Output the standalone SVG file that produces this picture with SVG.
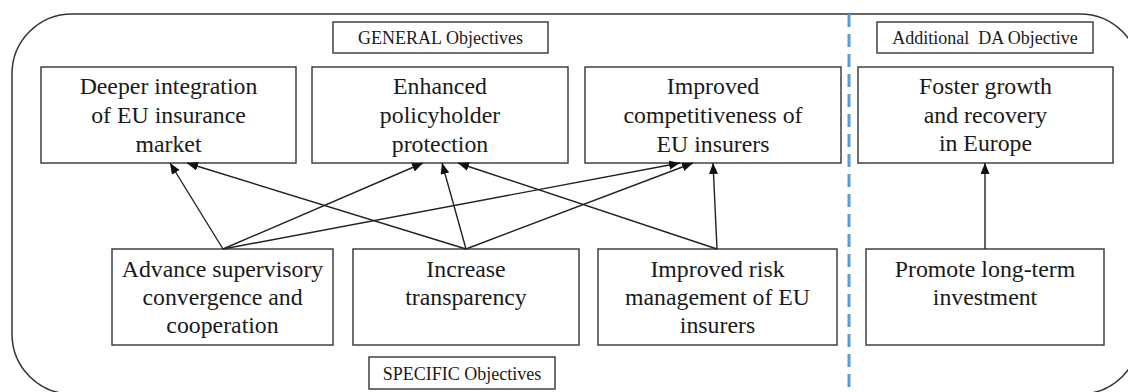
<svg xmlns="http://www.w3.org/2000/svg" width="1128" height="392" viewBox="0 0 1128 392">
<style>
.box{fill:#fff;stroke:#404040;stroke-width:1.5}
.t{font-family:'Liberation Serif',Tinos,'Times New Roman','DejaVu Serif',serif;font-size:23.8px;fill:#1a1a1a;text-anchor:middle}
.s{font-family:'Liberation Serif',Tinos,'Times New Roman','DejaVu Serif',serif;font-size:18px;fill:#1a1a1a;text-anchor:middle}
.c{stroke:#222;stroke-width:1.4;fill:none;marker-end:url(#ah)}
</style>
<defs>
<marker id="ah" markerUnits="userSpaceOnUse" markerWidth="12" markerHeight="10" refX="11" refY="4.5" orient="auto">
<path d="M0,0 L11,4.5 L0,9 z" fill="#111"/>
</marker>
</defs>
<rect x="0" y="0" width="1128" height="392" fill="#fff"/>
<rect id="frame" x="12" y="14" width="1128" height="380" rx="60" ry="60" fill="none" stroke="#333" stroke-width="1.5"/>
<line id="divider" x1="849" y1="14" x2="849" y2="392" stroke="#5B9BD5" stroke-width="3" stroke-dasharray="13,7"/>

<g id="lbl-general"><rect class="box" x="333" y="22" width="215" height="31"/><text class="s" x="440.5" y="44">GENERAL Objectives</text></g>
<g id="lbl-additional"><rect class="box" x="877" y="22" width="216" height="31"/><text class="s" x="985" y="44" xml:space="preserve">Additional  DA Objective</text></g>
<g id="lbl-specific"><rect class="box" x="369" y="357" width="186" height="32"/><text class="s" x="462" y="380">SPECIFIC Objectives</text></g>

<g id="g1"><rect class="box" x="41" y="67" width="255" height="96"/><text class="t"><tspan x="168.5" y="94">Deeper integration</tspan><tspan x="168.5" y="123">of EU insurance</tspan><tspan x="168.5" y="152">market</tspan></text></g>
<g id="g2"><rect class="box" x="312" y="67" width="256" height="96"/><text class="t"><tspan x="440" y="94">Enhanced</tspan><tspan x="440" y="123">policyholder</tspan><tspan x="440" y="152">protection</tspan></text></g>
<g id="g3"><rect class="box" x="585" y="67" width="256" height="96"/><text class="t"><tspan x="713" y="94">Improved</tspan><tspan x="713" y="123">competitiveness of</tspan><tspan x="713" y="152">EU insurers</tspan></text></g>
<g id="g4"><rect class="box" x="858" y="67" width="255" height="96"/><text class="t"><tspan x="985.5" y="94">Foster growth</tspan><tspan x="985.5" y="123">and recovery</tspan><tspan x="985.5" y="151">in Europe</tspan></text></g>

<g id="s1"><rect class="box" x="112" y="249" width="221" height="96"/><text class="t"><tspan x="222.5" y="277">Advance supervisory</tspan><tspan x="222.5" y="305">convergence and</tspan><tspan x="222.5" y="333">cooperation</tspan></text></g>
<g id="s2"><rect class="box" x="353" y="249" width="226" height="96"/><text class="t"><tspan x="466" y="277">Increase</tspan><tspan x="466" y="305">transparency</tspan></text></g>
<g id="s3"><rect class="box" x="598" y="249" width="239" height="96"/><text class="t"><tspan x="717.5" y="277">Improved risk</tspan><tspan x="717.5" y="305">management of EU</tspan><tspan x="717.5" y="333">insurers</tspan></text></g>
<g id="s4"><rect class="box" x="866" y="249" width="238" height="96"/><text class="t"><tspan x="985" y="277">Promote long-term</tspan><tspan x="985" y="305">investment</tspan></text></g>

<g id="connectors">
<line class="c" x1="223" y1="249" x2="170" y2="163"/>
<line class="c" x1="223" y1="249" x2="423" y2="163"/>
<line class="c" x1="223" y1="249" x2="680" y2="163"/>
<line class="c" x1="466" y1="249" x2="187" y2="163"/>
<line class="c" x1="466" y1="249" x2="442" y2="163"/>
<line class="c" x1="466" y1="249" x2="693" y2="163"/>
<line class="c" x1="717" y1="249" x2="458" y2="163"/>
<line class="c" x1="717" y1="249" x2="713" y2="163"/>
<line class="c" x1="985" y1="249" x2="985" y2="163"/>
</g>
</svg>
